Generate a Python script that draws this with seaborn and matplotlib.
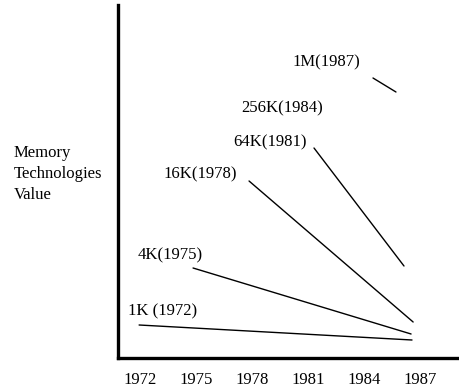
import matplotlib
matplotlib.use("Agg")
import matplotlib.pyplot as plt
import seaborn as sns
import pandas as pd

# ==========================================
# DATA
# ==========================================
chips = ["1K", "4K", "16K", "64K", "1M"]
start_year = [1971.95, 1974.84, 1977.84, 1981.32, 1984.48]
end_year = [1986.57, 1986.52, 1986.63, 1986.14, 1985.71]
start_value = [33, 90, 177, 210, 280]
end_value = [18, 24, 36, 92, 266]

tick_years = [1972, 1975, 1978, 1981, 1984, 1987]
tick_labels = ["1972", "1975", "1978", "1981", "1984", "1987"]

label_texts = ["1K (1972)", "4K(1975)", "16K(1978)", "64K(1981)", "256K(1984)", "1M(1987)"]
label_x = [1973.23, 1973.61, 1975.21, 1978.96, 1979.61, 1981.96]
label_y = [47, 103, 184, 216, 250, 296]

rows = []
for i, c in enumerate(chips):
    rows.append({"chip": c, "year": start_year[i], "value": start_value[i]})
    rows.append({"chip": c, "year": end_year[i], "value": end_value[i]})
df = pd.DataFrame(rows)

# ==========================================
# PLOT
# ==========================================
sns.set_theme(style="white")
plt.rcParams["font.family"] = ["Liberation Serif", "DejaVu Serif"]

fig = plt.figure(figsize=(4.6, 3.9), dpi=100)
ax = fig.add_axes([118 / 460, 32 / 390, 339 / 460, 353 / 390])

sns.lineplot(data=df, x="year", y="value", units="chip", estimator=None,
             color="black", linewidth=1.0, ax=ax, legend=False)

for t, x, y in zip(label_texts, label_x, label_y):
    ax.text(x, y, t, ha="center", va="center", fontsize=12, color="black")

ax.set_xlim(1970.82, 1988.98)
ax.set_ylim(0, 353)
ax.set_xticks(tick_years)
ax.set_xticklabels(tick_labels, fontsize=12)
ax.set_yticks([])
ax.set_xlabel("")
ax.set_ylabel("")
ax.tick_params(axis="x", length=0, pad=10, colors="black")

sns.despine(ax=ax)
for s in ["left", "bottom"]:
    ax.spines[s].set_linewidth(2.4)
    ax.spines[s].set_color("black")

fig.text(14 / 460, 1 - 174 / 390, "Memory\nTechnologies\nValue", ha="left",
         va="center", fontsize=12, linespacing=1.45, color="black")

fig.savefig("out.png", dpi=100)
